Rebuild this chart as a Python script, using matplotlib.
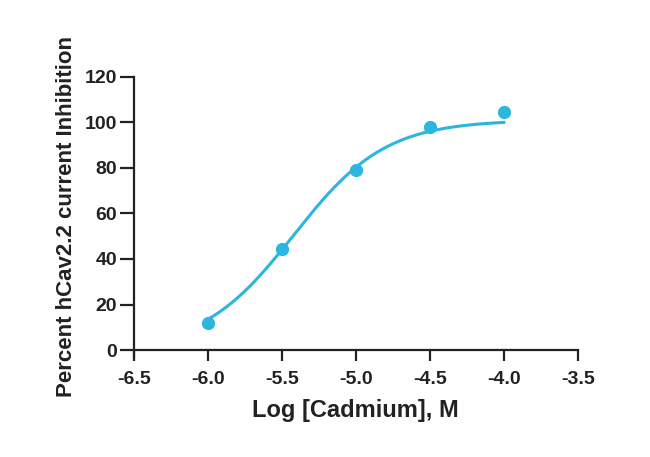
import matplotlib.pyplot as plt
import numpy as np

plt.rcParams['font.family'] = ['Liberation Sans', 'DejaVu Sans']

log_conc = [-6.0, -5.5, -5.0, -4.5, -4.0]
inhibition = [11.9, 44.4, 79.0, 98.0, 104.6]

# four-parameter logistic fit
fit_bottom = 0.0
fit_top = 101.0
fit_log_ic50 = -5.42
fit_hill = 1.4

xticks = [-6.5, -6.0, -5.5, -5.0, -4.5, -4.0, -3.5]
yticks = [0, 20, 40, 60, 80, 100, 120]

color = "#2BB6DF"

fig = plt.figure(figsize=(6.5, 4.57), dpi=100)
ax = fig.add_axes([0.206, 0.219, 0.683, 0.613])

xs = np.linspace(log_conc[0], log_conc[-1], 200)
ys = fit_bottom + (fit_top - fit_bottom) / (1 + 10 ** ((fit_log_ic50 - xs) * fit_hill))
ax.plot(xs, ys, color=color, linewidth=2.2, zorder=2)
ax.plot(log_conc, inhibition, "o", color=color, markersize=8.5, zorder=3, clip_on=False)

ax.set_xlim(-6.5, -3.5)
ax.set_xticks(xticks)
ax.set_yticks(yticks)
ax.set_xticklabels([f"{t:.1f}" for t in xticks])
ax.spines["top"].set_visible(False)
ax.spines["right"].set_visible(False)
for s in ("left", "bottom"):
    ax.spines[s].set_linewidth(1.6)
    ax.spines[s].set_color("#222222")
ax.spines["left"].set_bounds(-3, 120)
ax.set_ylim(-3, 120)
ax.spines["bottom"].set_position(("data", 0))
ax.tick_params(axis="y", width=1.6, length=10, color="#222222", labelsize=14, pad=2)
ax.tick_params(axis="x", width=1.6, length=8, color="#222222", labelsize=14, pad=7)
for lbl in ax.get_xticklabels() + ax.get_yticklabels():
    lbl.set_fontweight("bold")
    lbl.set_color("#222222")

ax.set_xlabel("Log [Cadmium], M", fontsize=17, fontweight="bold", color="#222222", labelpad=8)
ax.set_ylabel("Percent hCav2.2 current Inhibition", fontsize=16, fontweight="bold",
              color="#222222", labelpad=6)

fig.savefig("out.png", dpi=100)
